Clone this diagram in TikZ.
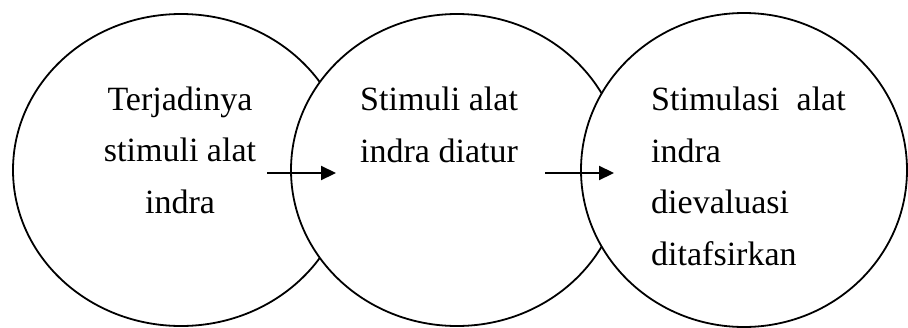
\documentclass[tikz,border=0pt]{standalone}
\usepackage{fontspec}
\setmainfont{Liberation Serif}
\usetikzlibrary{arrows.meta}
\begin{document}
\begin{tikzpicture}[x=1pt,y=-1pt,
  stage/.style={draw=black,fill=white,line width=1.8pt},
  txt/.style={inner sep=0pt,font=\fontsize{34}{51.5}\selectfont},
  flow/.style={line width=2.2pt,-{Triangle[length=15pt,width=14pt]}}]
\useasboundingbox (0,0) rectangle (908,327);
\draw[stage] (181,170) ellipse [x radius=168, y radius=156];
\draw[stage] (457,170) ellipse [x radius=166, y radius=156];
\draw[stage] (744,170) ellipse [x radius=163, y radius=157];
\node[txt,align=center,anchor=base] (t1) at (180,213) {Terjadinya\\stimuli alat\\indra};
\node[txt,align=left,anchor=base west] (t2) at (360,162) {Stimuli alat\\indra diatur};
\node[txt,align=left,anchor=base west] (t3) at (651,265) {Stimulasi~~alat\\indra\\dievaluasi\\ditafsirkan};
\coordinate (a1s) at (267,173);
\coordinate (a1e) at (336,173);
\coordinate (a2s) at (545,173);
\coordinate (a2e) at (614,173);
\draw[flow] (a1s) -- (a1e);
\draw[flow] (a2s) -- (a2e);
\end{tikzpicture}
\end{document}
